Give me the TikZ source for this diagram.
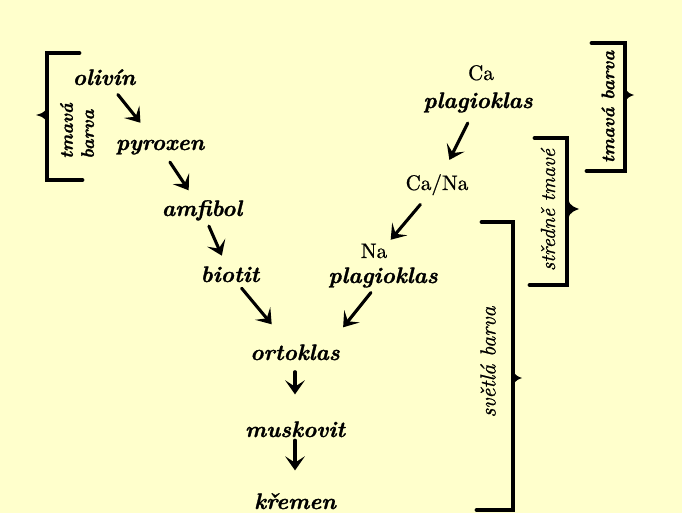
\documentclass[tikz,border=0pt]{standalone}
\usepackage{fontspec}
\usepackage{tikz}
\usetikzlibrary{arrows.meta}
\usepackage{xcolor}
\definecolor{pozadi}{HTML}{FFFFCC}
\newfontfamily\tucne{lmroman10-bolditalic.otf}[FakeBold=1.2]
\newfontfamily\rovne{lmroman10-regular.otf}[FakeBold=0.8]
\newfontfamily\kurziva{lmroman10-italic.otf}[FakeBold=0.8]

\begin{document}
\begin{tikzpicture}[x=0.025cm,y=-0.025cm,>={Stealth[length=10pt,width=14pt,inset=4.5pt]},line cap=round,
  mineral/.style={font=\fontsize{16}{20}\tucne,inner sep=1pt,anchor=base},
  prvek/.style={font=\fontsize{15}{18}\rovne,inner sep=1pt,anchor=base},
  popis/.style={rotate=90,font=\fontsize{14.5}{17}\kurziva,inner sep=0pt},
  sipka/.style={->,line width=2.2pt,shorten <=7pt,shorten >=7pt},
  zavorka/.style={line width=3.5pt,line join=miter}]
\fill[pozadi] (0,0) rectangle (682,513);
\useasboundingbox (0,0) rectangle (682,513);
% tmave mineraly
\node[mineral] (olivin) at (104,85) {olivín};
\node[mineral] (pyroxen) at (160,150) {pyroxen};
\node[mineral] (amfibol) at (202,216) {amfibol};
\node[mineral] (biotit) at (230,282) {biotit};
% zivce
\node[prvek] (ca) at (481,80) {Ca};
\node[mineral] (caplag) at (478,108) {plagioklas};
\node[prvek] (cana) at (437,190) {Ca/Na};
\node[prvek] (na) at (374,258) {Na};
\node[mineral] (naplag) at (383,283) {plagioklas};
% svetle mineraly
\node[mineral] (ortoklas) at (295,360) {ortoklas};
\node[mineral] (muskovit) at (295,437) {muskovit};
\node[mineral] (kremen) at (295,509) {křemen};
\draw[sipka,shorten >=14pt] (olivin) -- (pyroxen);
\draw[sipka,shorten <=5pt] (pyroxen) -- (amfibol);
\draw[sipka,shorten <=3pt] (amfibol) -- (biotit);
\draw[sipka,shorten <=4pt,shorten >=17pt] (biotit) -- (ortoklas);
\draw[sipka,shorten >=10pt] (caplag) -- (cana);
\draw[sipka,shorten >=2pt] (cana) -- (na.north east);
\draw[sipka,shorten <=3pt,shorten >=14pt] (naplag) -- (ortoklas.15);
\draw[sipka,shorten >=18pt] (ortoklas) -- (muskovit);
\draw[sipka,shorten <=1pt,shorten >=15pt] (muskovit) -- (kremen);
% zavorky
\draw[zavorka] (79,53) -- (47,53) -- (47,180) -- (82,180);
\fill (47,100) .. controls (46,112) .. (36,115) .. controls (46,118) .. (47,130) -- cycle;
\node[popis,font=\fontsize{13}{15}\tucne,align=left] (tmava1) at (77,131) {tmavá\\barva};
\draw[zavorka] (592,43) -- (625,43) -- (625,171) -- (587,171);
\fill (625,80) .. controls (626,92) .. (634,95) .. controls (626,98) .. (625,110) -- cycle;
\node[popis,font=\fontsize{13}{15}\tucne] (tmava2) at (608,107) {tmavá barva};
\draw[zavorka] (535,138) -- (567,138) -- (567,285) -- (530,285);
\fill (567,190) .. controls (569,205) .. (579,209) .. controls (569,213) .. (567,228) -- cycle;
\node[popis] (stredni) at (548,210) {středně tmavé};
\draw[zavorka] (482,222) -- (513,222) -- (513,510) -- (477,510);
\fill (513,362) .. controls (514,375) .. (522,378) .. controls (514,381) .. (513,394) -- cycle;
\node[popis,font=\fontsize{15.5}{18}\kurziva] (svetla) at (488,362) {světlá barva};
\end{tikzpicture}
\end{document}
